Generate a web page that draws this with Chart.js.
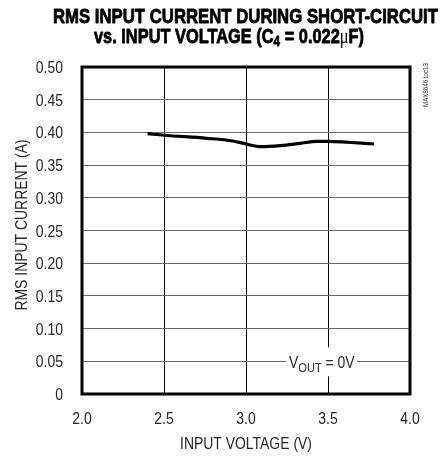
<!DOCTYPE html>
<html><head><meta charset="utf-8">
<script src="https://cdn.jsdelivr.net/npm/chart.js@4"></script>
<style>html,body{margin:0;padding:0;background:#fff}#wrap{width:442px;height:460px;position:relative}</style>
</head><body><div id="wrap"><canvas id="c" width="442" height="460"></canvas></div>
<script>
// Data
const inputVoltage = [2.40, 2.50, 2.76, 2.92, 3.00, 3.09, 3.21, 3.33, 3.43, 3.50, 3.62, 3.78];
const rmsCurrent   = [0.398, 0.3956, 0.391, 0.3869, 0.3823, 0.3781, 0.3797, 0.3833, 0.3864, 0.3864, 0.3849, 0.3823];
const xTickLabels = ['2.0', '2.5', '3.0', '3.5', '4.0'];
const yTickLabels = ['0', '0.05', '0.10', '0.15', '0.20', '0.25', '0.30', '0.35', '0.40', '0.45', '0.50'];
const titleLine1 = 'RMS INPUT CURRENT DURING SHORT-CIRCUIT';
const titleLine2 = ['vs. INPUT VOLTAGE (C', '4', ' = 0.022', '\u03bc', 'F)'];
const xTitle = 'INPUT VOLTAGE (V)';
const yTitle = 'RMS INPUT CURRENT (A)';
const vLabel = ['V', 'OUT', ' = 0V'];
const sideNote = 'MAX8646 toc13';

const SANS = '"Liberation Sans", Arial, sans-serif';
const NARROW_SX = 0.82;
const TXT = '#262626';

// draw text horizontally condensed (like a narrow face)
function narrowText(ctx, text, x, y, font, align, baseline, sx) {
  sx = sx || NARROW_SX;
  ctx.save();
  ctx.font = font;
  ctx.textBaseline = baseline || 'alphabetic';
  ctx.textAlign = 'left';
  const w = ctx.measureText(text).width * sx;
  let x0 = x;
  if (align === 'center') x0 = x - w / 2;
  else if (align === 'right') x0 = x - w;
  ctx.translate(x0, y);
  ctx.scale(sx, 1);
  ctx.fillText(text, 0, 0);
  ctx.restore();
  return w;
}

function drawFitted(ctx, pieces, x0, x1, baseline, stroke) {
  let w = 0;
  pieces.forEach(p => { ctx.font = p.font; p.w = ctx.measureText(p.t).width; w += p.w; });
  const s = (x1 - x0) / w;
  ctx.save();
  ctx.translate(x0, baseline);
  ctx.scale(s, 1);
  ctx.textAlign = 'left';
  ctx.textBaseline = 'alphabetic';
  ctx.lineJoin = 'round';
  let x = 0;
  pieces.forEach(p => {
    ctx.font = p.font;
    ctx.fillText(p.t, x, p.dy || 0);
    if (stroke && p.bold) { ctx.lineWidth = stroke; ctx.strokeText(p.t, x, p.dy || 0); }
    x += p.w;
  });
  ctx.restore();
}

const deco = {
  id: 'deco',
  afterDatasetsDraw(chart) {
    const ctx = chart.ctx;
    const xs = chart.scales.x, ys = chart.scales.y;
    // V_OUT label over the 0.05 grid line
    const cy = ys.getPixelForValue(0.05);
    const cx = xs.getPixelForValue(3.5);
    ctx.save();
    ctx.fillStyle = '#fff';
    ctx.fillRect(cx - 42, cy - 14, 71, 29);
    ctx.fillStyle = TXT;
    let x = cx - 39;
    x += narrowText(ctx, vLabel[0], x, cy + 7, '17px ' + SANS);
    x += narrowText(ctx, vLabel[1], x, cy + 10.5, '13.5px ' + SANS);
    narrowText(ctx, vLabel[2], x, cy + 7, '17px ' + SANS);
    ctx.restore();
  },
  afterDraw(chart) {
    const ctx = chart.ctx;
    const a = chart.chartArea;
    const xs = chart.scales.x, ys = chart.scales.y;
    ctx.save();
    // plot frame
    ctx.strokeStyle = '#000';
    ctx.lineWidth = 3;
    ctx.strokeRect(a.left, a.top, a.right - a.left, a.bottom - a.top);
    // tick labels (positions from the chart scales)
    ctx.fillStyle = TXT;
    ys.ticks.forEach((t, i) => {
      narrowText(ctx, yTickLabels[i], a.left - 19, ys.getPixelForValue(t.value) + 6, '17px ' + SANS, 'right');
    });
    xs.ticks.forEach((t, i) => {
      narrowText(ctx, xTickLabels[i], xs.getPixelForValue(t.value), a.bottom + 30, '17px ' + SANS, 'center');
    });
    // axis titles
    narrowText(ctx, xTitle, (a.left + a.right) / 2, 449, '17px ' + SANS, 'center');
    ctx.save();
    ctx.translate(27, 225);
    ctx.rotate(-Math.PI / 2);
    narrowText(ctx, yTitle, 0, 0, '17px ' + SANS, 'center');
    ctx.restore();
    // chart titles
    ctx.fillStyle = '#000';
    ctx.strokeStyle = '#000';
    const bold = 'bold 21px ' + SANS;
    drawFitted(ctx, [{t: titleLine1, font: bold, bold: true}], 53, 438, 23, 0.8);
    drawFitted(ctx, [
      {t: titleLine2[0], font: bold, bold: true},
      {t: titleLine2[1], font: 'bold 15px ' + SANS, dy: 3, bold: true},
      {t: titleLine2[2], font: bold, bold: true},
      {t: titleLine2[3], font: '21px "Liberation Serif", serif'},
      {t: titleLine2[4], font: bold, bold: true}
    ], 94, 364, 43, 0.8);
    // side note
    ctx.fillStyle = '#333';
    ctx.translate(428, 85);
    ctx.rotate(-Math.PI / 2);
    narrowText(ctx, sideNote, 0, 0, '7.5px ' + SANS, 'center');
    ctx.restore();
  }
};

new Chart(document.getElementById('c'), {
  type: 'line',
  data: {
    datasets: [{
      data: inputVoltage.map((v, i) => ({x: v, y: rmsCurrent[i]})),
      borderColor: '#000',
      borderWidth: 3.2,
      pointRadius: 0,
      tension: 0.4,
      cubicInterpolationMode: 'monotone',
      fill: false
    }]
  },
  options: {
    responsive: false,
    animation: false,
    devicePixelRatio: 1,
    layout: {padding: {left: 0, top: 67, right: 32, bottom: 0}},
    plugins: {legend: {display: false}, title: {display: false}, tooltip: {enabled: false}},
    scales: {
      x: {
        type: 'linear', min: 2, max: 4,
        afterFit: s => { s.height = 66; },
        ticks: {stepSize: 0.5, display: false},
        grid: {drawTicks: false, lineWidth: 1,
          color: c => (c.index === 0 || c.index === 4) ? 'rgba(0,0,0,0)' : '#000'},
        border: {display: false},
        title: {display: false}
      },
      y: {
        type: 'linear', min: 0, max: 0.5,
        afterFit: s => { s.width = 82; },
        ticks: {stepSize: 0.05, display: false},
        grid: {drawTicks: false, lineWidth: 1,
          color: c => (c.index === 0 || c.index === 10) ? 'rgba(0,0,0,0)' : '#666'},
        border: {display: false},
        title: {display: false}
      }
    }
  },
  plugins: [deco]
});
</script></body></html>
